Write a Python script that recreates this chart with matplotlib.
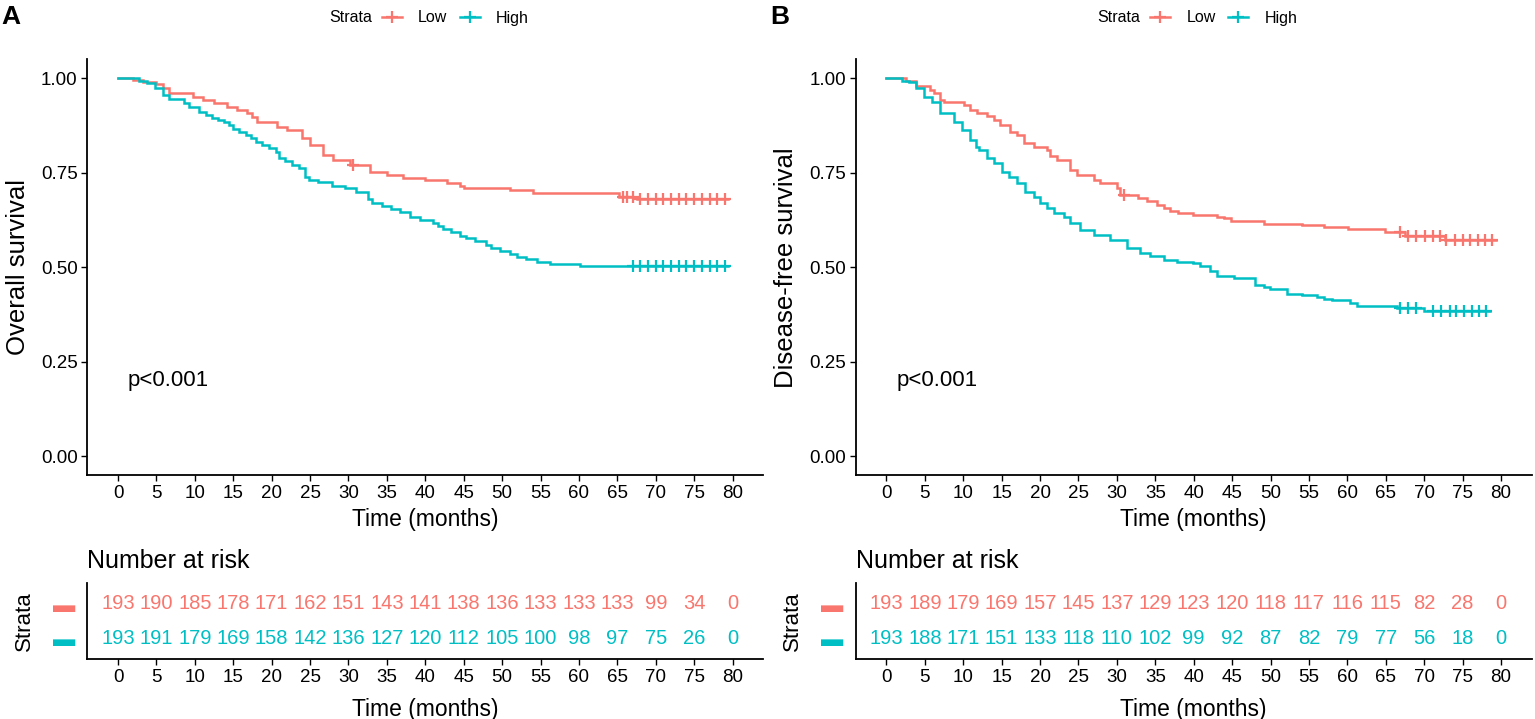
import numpy as np
import matplotlib
matplotlib.use('Agg')
import matplotlib.pyplot as plt
from matplotlib.lines import Line2D

plt.rcParams['font.family'] = ['Liberation Sans', 'DejaVu Sans']

RED = '#F8766D'
BLUE = '#00BFC4'

time_breaks = list(range(0, 85, 5))
surv_breaks = [0.0, 0.25, 0.50, 0.75, 1.00]
surv_labels = ['0.00', '0.25', '0.50', '0.75', '1.00']
strata_labels = ['Low', 'High']

# ---- Panel A: overall survival ----
os_low_t = [0, 2.0, 3.3, 4.9, 5.9, 6.7, 9.8, 11.0, 12.5, 14.2, 15.5, 16.8, 17.5, 18.1, 20.7, 22.0,
            23.9, 25.0, 26.7, 28.0, 30.2, 32.8, 35.0, 37.1, 40.0, 42.8, 44.5, 45.0, 51.0, 54.0, 65.2, 67.5]
os_low_s = [1.0, 0.995, 0.990, 0.985, 0.973, 0.960, 0.950, 0.943, 0.935, 0.925, 0.916, 0.908, 0.897, 0.885,
            0.872, 0.863, 0.841, 0.824, 0.797, 0.784, 0.771, 0.753, 0.744, 0.736, 0.731, 0.722, 0.714,
            0.709, 0.705, 0.696, 0.687, 0.680]
os_low_end = 79.4
os_low_cens = [30.6, 65.7, 66.3, 67.0, 68, 69, 70, 71, 72, 73, 74, 75, 76, 77, 78, 79]

os_high_t = [0, 2.7, 3.8, 4.8, 5.9, 6.6, 8.6, 9.2, 10.6, 11.5, 12.2, 13.0, 13.8, 14.5, 15.0, 15.8, 16.6,
             17.3, 17.9, 18.8, 19.7, 20.5, 21.0, 21.8, 22.6, 23.5, 24.3, 24.8, 26.0, 27.8, 29.5, 31.0,
             32.5, 33.0, 34.3, 35.5, 36.7, 38.0, 39.3, 41.0, 41.6, 42.3, 43.3, 44.5, 45.3, 46.5, 47.9,
             48.5, 49.7, 51.0, 52.0, 53.1, 54.5, 56.2, 60.1]
os_high_s = [1.0, 0.993, 0.988, 0.974, 0.956, 0.944, 0.935, 0.925, 0.912, 0.903, 0.896, 0.890, 0.883,
             0.876, 0.867, 0.859, 0.851, 0.843, 0.832, 0.823, 0.815, 0.806, 0.789, 0.780, 0.770, 0.762,
             0.740, 0.730, 0.725, 0.716, 0.709, 0.700, 0.680, 0.670, 0.662, 0.655, 0.645, 0.634, 0.625,
             0.617, 0.608, 0.600, 0.592, 0.583, 0.577, 0.570, 0.560, 0.551, 0.544, 0.535, 0.528, 0.521,
             0.515, 0.509, 0.502]
os_high_end = 79.4
os_high_cens = [67, 68, 69, 70, 71, 72, 73, 74, 75, 76, 77, 78, 79]

risk_os_low = [193, 190, 185, 178, 171, 162, 151, 143, 141, 138, 136, 133, 133, 133, 99, 34, 0]
risk_os_high = [193, 191, 179, 169, 158, 142, 136, 127, 120, 112, 105, 100, 98, 97, 75, 26, 0]

# ---- Panel B: disease-free survival ----
dfs_low_t = [0, 2.5, 3.8, 5.7, 6.2, 7.0, 7.5, 10.1, 10.9, 11.8, 13.1, 14.0, 14.8, 16.1, 17.0, 17.9,
             19.2, 20.9, 21.3, 22.2, 23.9, 24.8, 27.0, 27.8, 30.0, 30.4, 32.8, 33.9, 35.2, 36.1, 36.9,
             38.0, 39.9, 43.0, 43.9, 44.9, 49.1, 54.1, 56.9, 60.1, 64.9, 67.5, 72.7]
dfs_low_s = [1.0, 0.994, 0.980, 0.969, 0.960, 0.943, 0.936, 0.929, 0.916, 0.909, 0.899, 0.890, 0.877,
             0.859, 0.850, 0.828, 0.818, 0.810, 0.793, 0.784, 0.758, 0.744, 0.731, 0.722, 0.709, 0.692,
             0.683, 0.674, 0.665, 0.656, 0.648, 0.643, 0.639, 0.634, 0.630, 0.621, 0.615, 0.612, 0.606,
             0.601, 0.592, 0.583, 0.571]
dfs_low_end = 79.4
dfs_low_cens = [30.9, 66.8, 67.9, 69.0, 70.1, 71.1, 72.0, 72.9, 74.0, 75.1, 76.0, 77.0, 77.9, 78.8]

dfs_high_t = [0, 2.0, 2.9, 3.8, 4.9, 5.9, 7.0, 8.8, 9.8, 10.9, 11.6, 12.0, 13.1, 14.0, 15.0, 15.9, 17.0,
              18.1, 19.2, 20.0, 20.9, 21.8, 23.1, 23.9, 25.2, 27.0, 29.1, 31.3, 33.0, 34.3, 36.1, 37.8,
              39.9, 40.8, 42.1, 43.0, 45.2, 48.0, 49.1, 49.9, 52.1, 54.1, 56.0, 56.9, 58.0, 60.3, 61.2,
              66.5, 70.0]
dfs_high_s = [1.0, 0.994, 0.989, 0.973, 0.950, 0.936, 0.907, 0.885, 0.863, 0.837, 0.819, 0.810, 0.788,
              0.775, 0.753, 0.740, 0.722, 0.700, 0.687, 0.669, 0.656, 0.643, 0.634, 0.617, 0.599, 0.586,
              0.573, 0.551, 0.538, 0.529, 0.520, 0.515, 0.511, 0.502, 0.489, 0.478, 0.471, 0.454, 0.448,
              0.441, 0.430, 0.427, 0.421, 0.416, 0.412, 0.405, 0.398, 0.392, 0.383]
dfs_high_end = 78.6
dfs_high_cens = [66.8, 67.9, 69.0, 71.1, 72.2, 73.3, 74.2, 75.2, 76.2, 77.2, 78.1]

risk_dfs_low = [193, 189, 179, 169, 157, 145, 137, 129, 123, 120, 118, 117, 116, 115, 82, 28, 0]
risk_dfs_high = [193, 188, 171, 151, 133, 118, 110, 102, 99, 92, 87, 82, 79, 77, 56, 18, 0]

# ---------------- drawing ----------------
W, H = 1535, 719
fig = plt.figure(figsize=(W / 100, H / 100), dpi=100)


def px_axes(l, t, r, b):
    return fig.add_axes([l / W, 1 - b / H, (r - l) / W, (b - t) / H])


def style(ax):
    for sp in ['top', 'right']:
        ax.spines[sp].set_visible(False)
    for sp in ['left', 'bottom']:
        ax.spines[sp].set_linewidth(1.3)
        ax.spines[sp].set_color('black')
    ax.tick_params(axis='both', length=4, width=1.0, color='black', labelsize=13.5,
                   labelcolor='black', pad=3)
    ax.set_xlim(-4, 84)
    ax.set_xticks(time_breaks)


def km(ax, t, s, end, cens, color):
    tt = list(t) + [end]
    ss = list(s) + [s[-1]]
    ax.step(tt, ss, where='post', color=color, lw=1.8, solid_joinstyle='miter')
    idx = np.searchsorted(np.asarray(t), np.asarray(cens), side='right') - 1
    cy = np.asarray(s)[idx]
    ax.plot(cens, cy, ls='none', marker='+', ms=9, mew=1.6, color=color)


panels = [
    dict(left=87.3, letter='A', ylabel='Overall survival',
         low=(os_low_t, os_low_s, os_low_end, os_low_cens),
         high=(os_high_t, os_high_s, os_high_end, os_high_cens),
         risk=(risk_os_low, risk_os_high)),
    dict(left=855.7, letter='B', ylabel='Disease-free survival',
         low=(dfs_low_t, dfs_low_s, dfs_low_end, dfs_low_cens),
         high=(dfs_high_t, dfs_high_s, dfs_high_end, dfs_high_cens),
         risk=(risk_dfs_low, risk_dfs_high)),
]

for p in panels:
    L = p['left']
    R = L + 676
    ax = px_axes(L, 59.4, R, 475)
    style(ax)
    ax.set_ylim(-0.05, 1.05)
    ax.set_yticks(surv_breaks)
    ax.set_yticklabels(surv_labels)
    km(ax, *p['low'], RED)
    km(ax, *p['high'], BLUE)
    ax.text(1.3, 0.20, 'p<0.001', fontsize=16, ha='left', va='center', color='black')
    ax.set_xlabel('Time (months)', fontsize=16.5, va='center')
    ax.xaxis.set_label_coords(0.5, -0.108)
    ax.set_ylabel(p['ylabel'], fontsize=18.5, va='center')
    ax.yaxis.set_label_coords(-0.103, 0.5)

    # panel letter
    fig.text((L - 76) / W, 1 - 17 / H, p['letter'], fontsize=19, fontweight='bold',
             ha='center', va='center')

    # legend
    off = L - 87.3
    fig.text((329 + off) / W, 1 - 18 / H, 'Strata', fontsize=11.5, ha='left', va='center')
    handles = [Line2D([], [], color=RED, lw=1.8, marker='+', ms=9, mew=1.6),
               Line2D([], [], color=BLUE, lw=1.8, marker='+', ms=9, mew=1.6)]
    fig.legend(handles, strata_labels, loc='center left',
               bbox_to_anchor=((382 + off) / W, 1 - 18 / H), ncol=2, frameon=False,
               fontsize=11.5, handlelength=1.25, handletextpad=1.0, columnspacing=0.8,
               borderpad=0, borderaxespad=0)

    # risk table
    tb = px_axes(L, 583, R, 659)
    style(tb)
    tb.set_ylim(-0.6, 1.6)
    tb.set_yticks([1, 0])
    tb.set_yticklabels(['\u25AC', '\u25AC'], fontsize=16)
    tb.tick_params(axis='y', length=0, pad=9)
    for lab, c in zip(tb.get_yticklabels(), [RED, BLUE]):
        lab.set_color(c)
    low_r, high_r = p['risk']
    for tx, n in zip(time_breaks, low_r):
        tb.text(tx, 1, str(n), ha='center', va='center', color=RED, fontsize=14.5)
    for tx, n in zip(time_breaks, high_r):
        tb.text(tx, 0, str(n), ha='center', va='center', color=BLUE, fontsize=14.5)
    tb.set_xlabel('Time (months)', fontsize=16.5, va='center')
    tb.xaxis.set_label_coords(0.5, -0.67)
    tb.set_ylabel('Strata', fontsize=16, va='center')
    tb.yaxis.set_label_coords(-(87.3 - 24) / 676, 0.5)
    tb.text(0, 1.29, 'Number at risk', transform=tb.transAxes, fontsize=18,
            ha='left', va='center')

fig.savefig('out.png', dpi=100)
